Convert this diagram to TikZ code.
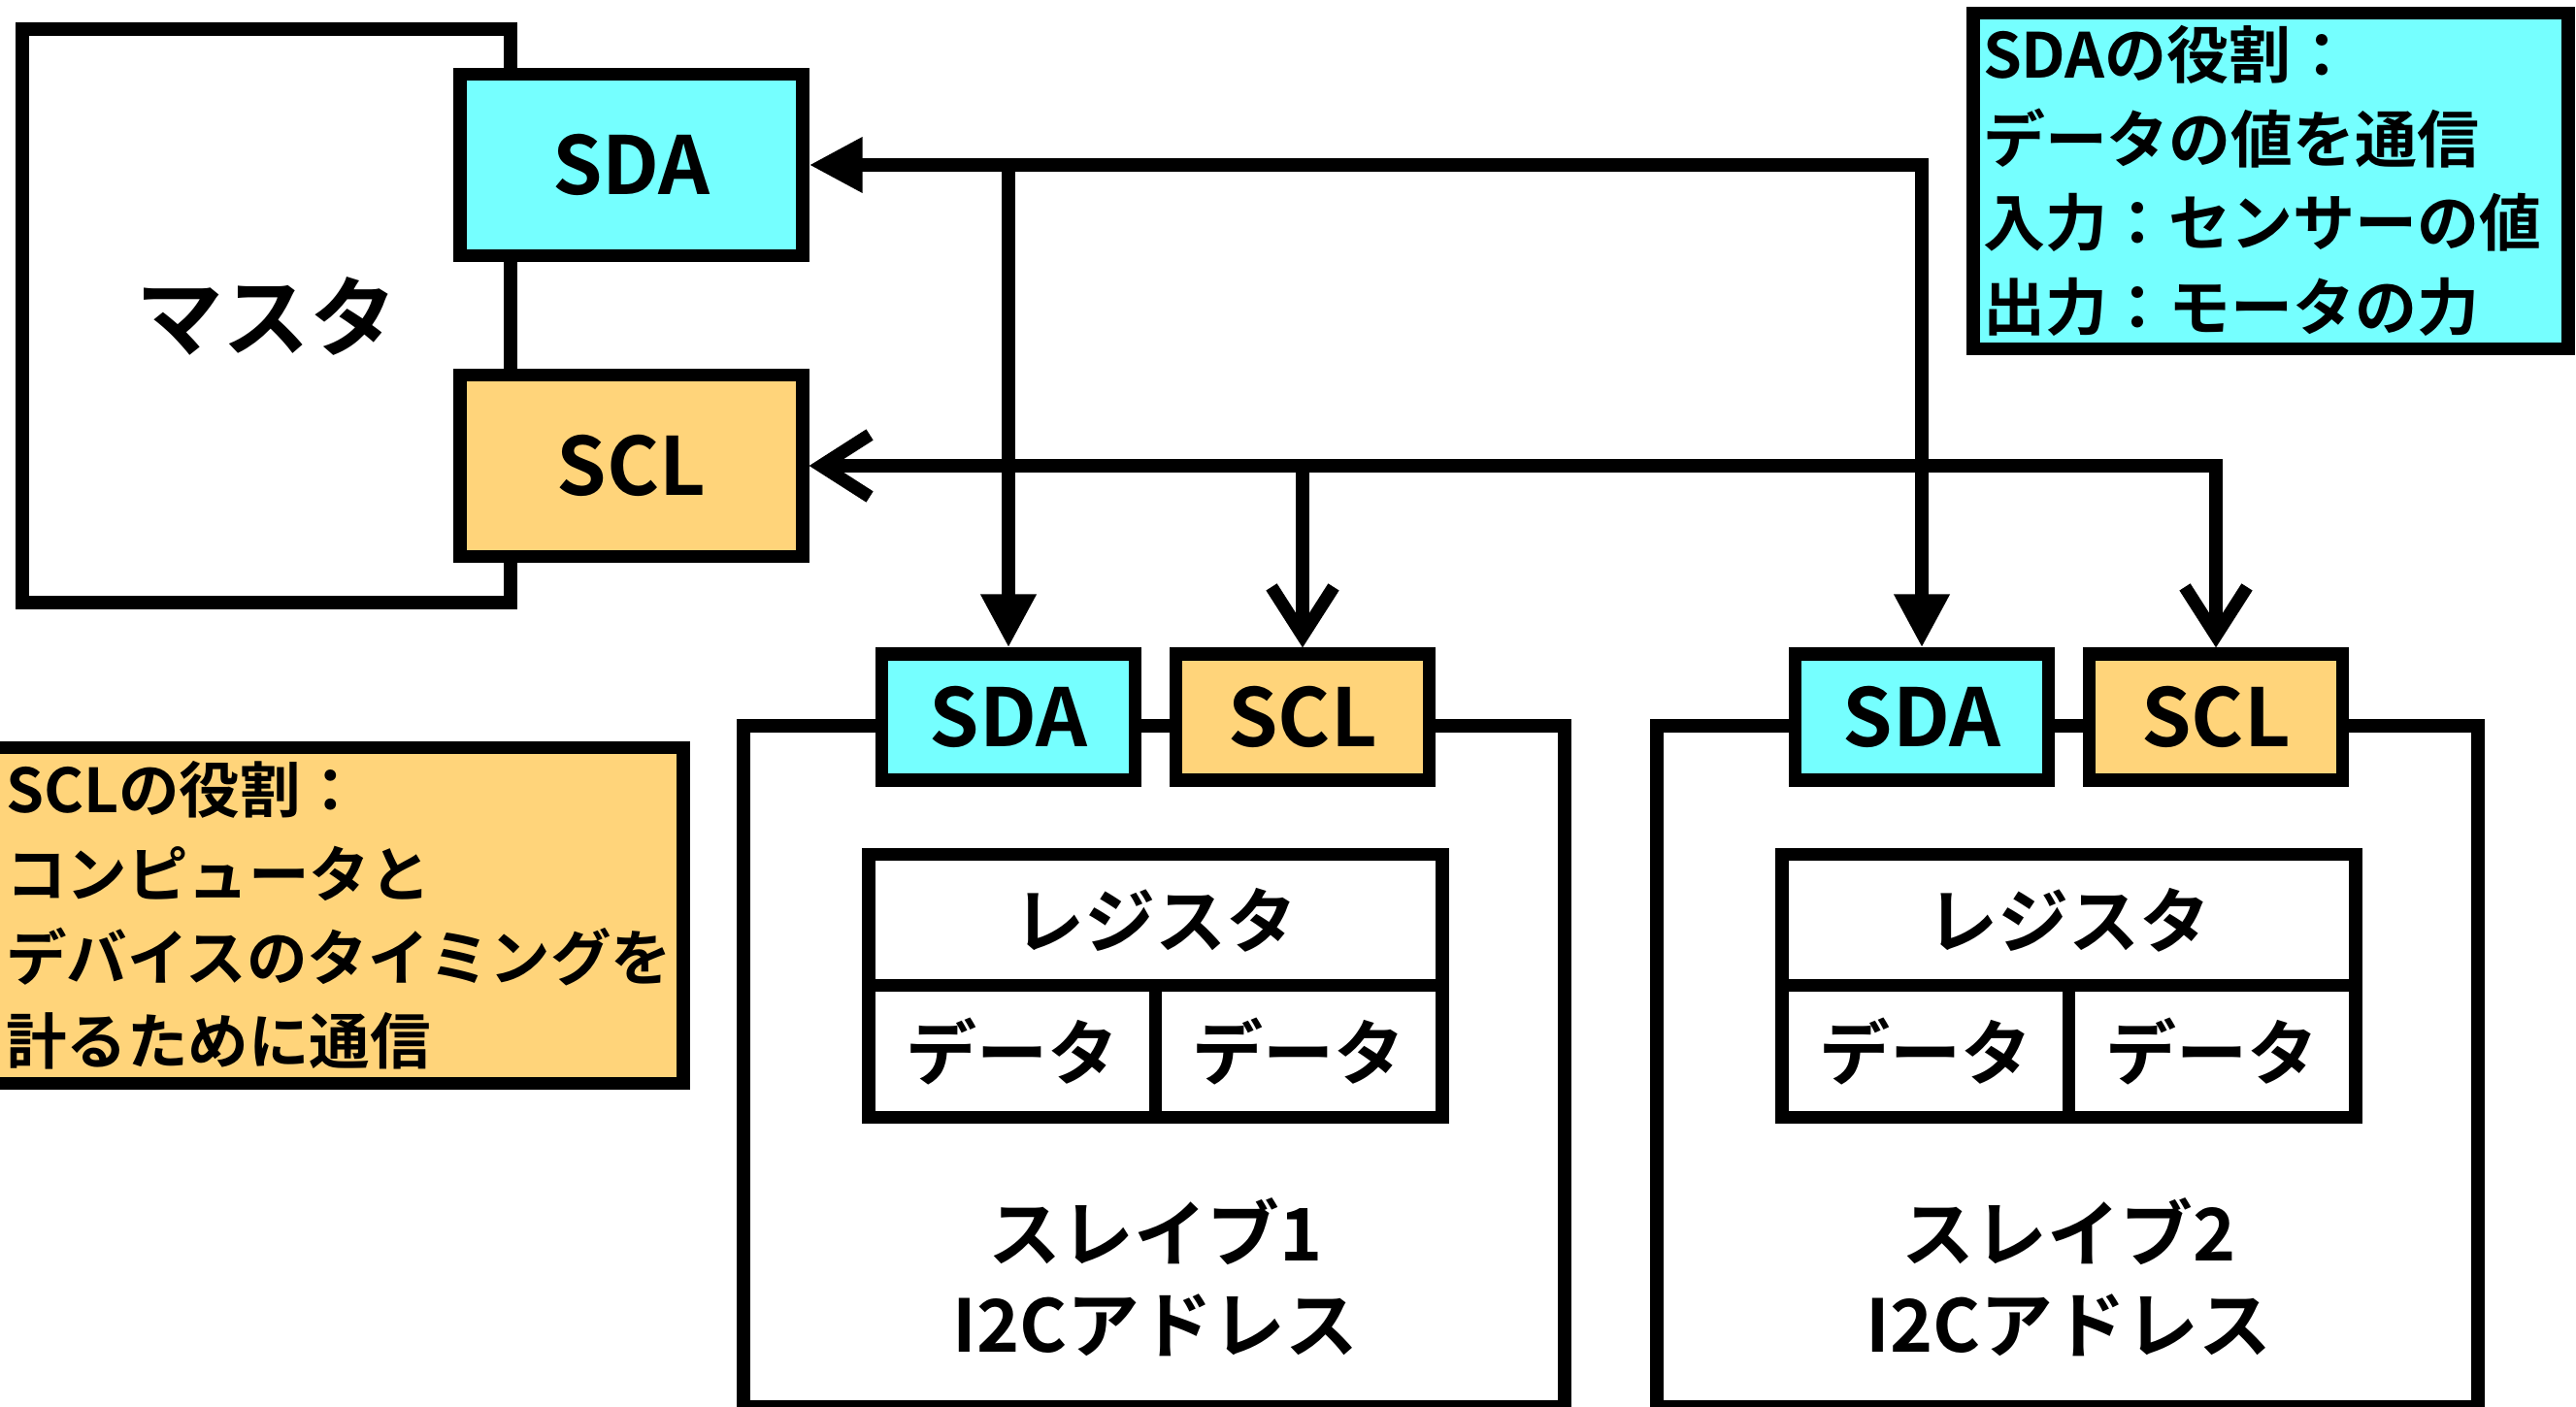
\documentclass[tikz,border=0pt]{standalone}
\usepackage{fontspec}
\setmainfont{Noto Sans CJK JP}[BoldFont={Noto Sans CJK JP Bold}]
\usepackage{tikz}
\usetikzlibrary{arrows.meta}
\definecolor{sdacyan}{RGB}{117,255,255}
\definecolor{sclorange}{RGB}{255,212,122}

\tikzset{
  sdatip/.tip={Triangle[length=5.5mm,width=5.4mm]},
  scltip/.tip={Straight Barb[length=5mm,width=6.4mm]},
  box/.style={draw, fill=white, inner sep=0pt},
  pin/.style={box, minimum width=2.61cm, minimum height=1.30cm,
    font=\bfseries\fontsize{23.5}{27}\selectfont},
  mpin/.style={pin, minimum width=3.53cm, minimum height=1.87cm},
  cell/.style={box, minimum height=1.355cm,
    font=\bfseries\fontsize{20.8}{24}\selectfont},
  note/.style={box, align=left, inner ysep=0pt, minimum height=3.46cm,
    font=\bfseries\fontsize{18.2}{24.6}\selectfont},
}

\begin{document}
\begin{tikzpicture}[line width=3.8pt]
\useasboundingbox (0,0) rectangle (26.54,-14.50);

% master with its two pins
\node[box, minimum width=5.03cm, minimum height=5.91cm,
  font=\bfseries\fontsize{25.5}{28}\selectfont] (master) at (2.745,-3.255) {マスタ};
\node[mpin, fill=sdacyan] (msda) at (6.505,-1.70) {SDA};
\node[mpin, fill=sclorange] (mscl) at (6.505,-4.80) {SCL};

% slave 1
\node[box, minimum width=8.46cm, minimum height=7.015cm] (slave1) at (11.89,-10.9875) {};
\node[pin, fill=sdacyan] (sda1) at (10.39,-7.39) {SDA};
\node[pin, fill=sclorange] (scl1) at (13.42,-7.39) {SCL};
\node[cell, minimum width=5.91cm] (reg1) at (11.905,-9.48) {レジスタ};
\node[cell, minimum width=2.955cm] (data1a) at (10.4275,-10.835) {データ};
\node[cell, minimum width=2.955cm] (data1b) at (13.3825,-10.835) {データ};
\node[align=center, font=\bfseries\fontsize{21.3}{26.9}\selectfont] (name1) at (11.905,-13.16)
  {スレイブ1\\I2Cアドレス};

% slave 2
\node[box, minimum width=8.46cm, minimum height=7.015cm] (slave2) at (21.30,-10.9875) {};
\node[pin, fill=sdacyan] (sda2) at (19.80,-7.39) {SDA};
\node[pin, fill=sclorange] (scl2) at (22.83,-7.39) {SCL};
\node[cell, minimum width=5.91cm] (reg2) at (21.315,-9.48) {レジスタ};
\node[cell, minimum width=2.955cm] (data2a) at (19.8375,-10.835) {データ};
\node[cell, minimum width=2.955cm] (data2b) at (22.7925,-10.835) {データ};
\node[align=center, font=\bfseries\fontsize{21.3}{26.9}\selectfont] (name2) at (21.315,-13.16)
  {スレイブ2\\I2Cアドレス};

% buses
\draw[sdatip-sdatip] (msda.east) -| (sda2.north);
\draw[-sdatip] (msda.east -| sda1.north) -- (sda1.north);
\draw[scltip-scltip] (mscl.east) -| (scl2.north);
\draw[-scltip] (mscl.east -| scl1.north) -- (scl1.north);

% notes
\node[note, fill=sdacyan, text width=5.93cm, inner xsep=0.10cm] (sdanote) at (23.395,-1.865)
  {SDAの役割：\\データの値を通信\\入力：センサーの値\\出力：モータの力};
\node[note, fill=sclorange, text width=6.82cm, inner xsep=0.16cm,
  font=\bfseries\fontsize{17.8}{24.6}\selectfont] (sclnote) at (3.47,-9.435)
  {SCLの役割：\\コンピュータと\\デバイスのタイミングを\\計るために通信};
\end{tikzpicture}
\end{document}
